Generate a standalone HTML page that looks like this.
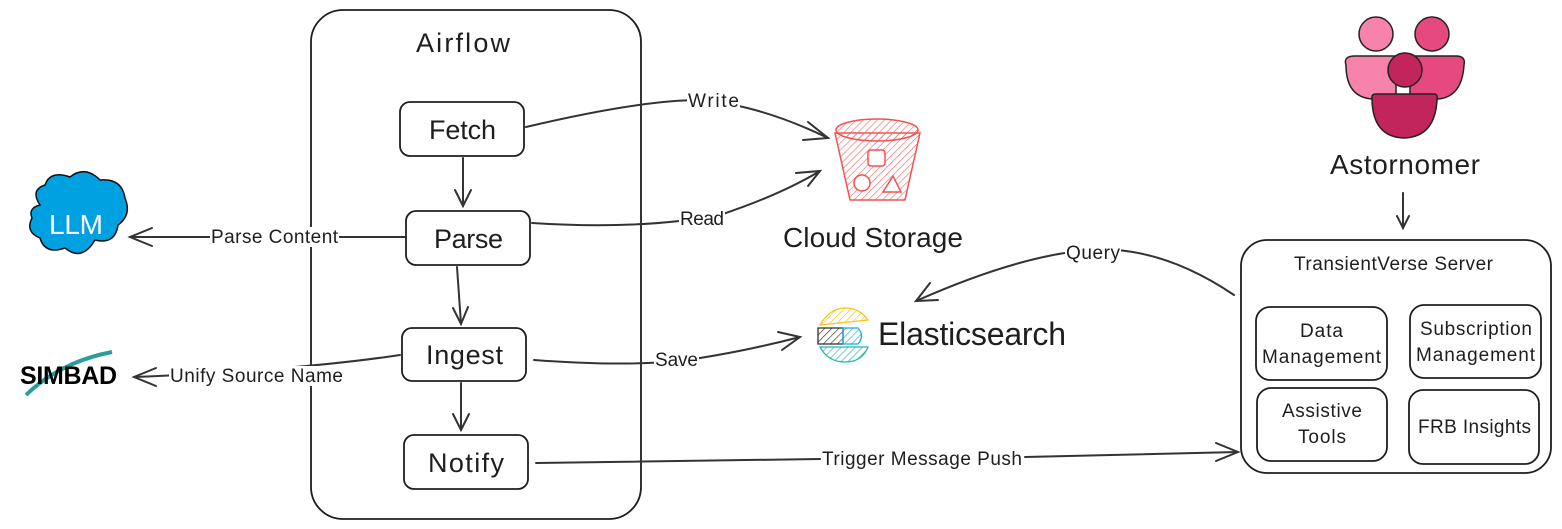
<!DOCTYPE html>
<html><head><meta charset="utf-8"><style>
html,body{margin:0;padding:0;background:#fff;}
svg{display:block;}
text{font-family:"Liberation Sans",sans-serif;fill:#1e1e1e;}
</style></head><body>
<svg width="1562" height="529" viewBox="0 0 1562 529" xmlns="http://www.w3.org/2000/svg">
<defs>
<pattern id="hr" width="5" height="5" patternUnits="userSpaceOnUse" patternTransform="rotate(45)"><line x1="0" y1="0" x2="0" y2="5" stroke="#f26b6b" stroke-width="1.3"/></pattern>
<pattern id="hy" width="5" height="5" patternUnits="userSpaceOnUse" patternTransform="rotate(45)"><line x1="0" y1="0" x2="0" y2="5" stroke="#f5c518" stroke-width="1.3"/></pattern>
<pattern id="hb" width="5" height="5" patternUnits="userSpaceOnUse" patternTransform="rotate(45)"><line x1="0" y1="0" x2="0" y2="5" stroke="#1ba9e0" stroke-width="1.3"/></pattern>
<pattern id="ht" width="5" height="5" patternUnits="userSpaceOnUse" patternTransform="rotate(45)"><line x1="0" y1="0" x2="0" y2="5" stroke="#20b9a8" stroke-width="1.3"/></pattern>
<pattern id="hk" width="5" height="5" patternUnits="userSpaceOnUse" patternTransform="rotate(45)"><line x1="0" y1="0" x2="0" y2="5" stroke="#333" stroke-width="1.3"/></pattern>
</defs>
<g fill="none" stroke="#1e1e1e" stroke-width="1.8">
<rect x="311" y="10" width="330" height="509" rx="32"/>
<rect x="400" y="102" width="124" height="54" rx="10"/>
<rect x="406" y="211" width="124" height="54" rx="10"/>
<rect x="402" y="328" width="124" height="53" rx="10"/>
<rect x="404" y="435" width="124" height="54" rx="10"/>
<rect x="1241" y="240" width="310" height="233" rx="26"/>
<rect x="1256" y="307" width="131" height="73" rx="14"/>
<rect x="1410" y="305" width="131" height="73" rx="14"/>
<rect x="1257" y="388" width="130" height="73" rx="14"/>
<rect x="1409" y="390" width="130" height="74" rx="14"/>
</g>
<text x="416" y="52" font-size="27" textLength="94">Airflow</text>
<text x="429" y="139" font-size="27" textLength="67">Fetch</text>
<text x="434" y="248" font-size="27" textLength="69">Parse</text>
<text x="426" y="364" font-size="27" textLength="77">Ingest</text>
<text x="428" y="472" font-size="27" textLength="76">Notify</text>
<text x="1294" y="270" font-size="19" textLength="199">TransientVerse Server</text>
<text x="1300" y="337" font-size="19" textLength="43">Data</text>
<text x="1262" y="363" font-size="19" textLength="119">Management</text>
<text x="1420" y="335" font-size="19" textLength="112">Subscription</text>
<text x="1416" y="361" font-size="19" textLength="119">Management</text>
<text x="1282" y="417" font-size="19" textLength="80">Assistive</text>
<text x="1298" y="443" font-size="19" textLength="48">Tools</text>
<text x="1418" y="433" font-size="19" textLength="113">FRB Insights</text>
<text x="1330" y="174" font-size="28" textLength="150">Astornomer</text>
<text x="783" y="247" font-size="28" textLength="180">Cloud Storage</text>
<text x="878" y="345" font-size="32" textLength="188">Elasticsearch</text>

<g fill="none" stroke="#333" stroke-width="2" stroke-linecap="round">
<path d="M526 127 Q640 100 700 100 Q760 105 828 138"/><path d="M808 122 L828 138 L803 140"/>
<path d="M532 223 Q640 230 720 215 Q780 195 820 171"/><path d="M796 173 L820 171 L808 186"/>
<path d="M406 237 L130 237"/><path d="M152 228 L130 237 L152 246"/>
<path d="M400 355 Q300 370 134 377"/><path d="M156 368 L134 377 L156 386"/>
<path d="M534 360 Q640 368 700 358 Q750 350 800 337"/><path d="M778 332 L800 337 L782 350"/>
<path d="M1234 295 Q1160 245 1090 250 Q1020 255 916 301"/><path d="M930 283 L916 301 L938 300"/>
<path d="M536 463 L820 459 M1025 457 L1238 452"/><path d="M1216 443 L1238 452 L1216 461"/>
<path d="M463 158 L463 206"/><path d="M455 190 L463 206 L471 190"/>
<path d="M457 267 L461 324"/><path d="M453 308 L461 324 L468 307"/>
<path d="M461 383 L461 430"/><path d="M453 414 L461 430 L469 414"/>
<path d="M1403 193 L1403 228"/><path d="M1397 216 L1403 228 L1409 216"/>
</g>
<g font-size="19">
<rect x="687" y="91" width="53" height="20" fill="#fff"/><text x="688" y="107" textLength="51">Write</text>
<rect x="679" y="208" width="46" height="20" fill="#fff"/><text x="680" y="225" textLength="44">Read</text>
<rect x="210" y="227" width="129" height="20" fill="#fff"/><text x="211" y="243" textLength="127">Parse Content</text>
<rect x="169" y="366" width="175" height="20" fill="#fff"/><text x="170" y="382" textLength="173">Unify Source Name</text>
<rect x="654" y="350" width="45" height="20" fill="#fff"/><text x="655" y="366" textLength="43">Save</text>
<rect x="1065" y="243" width="56" height="20" fill="#fff"/><text x="1066" y="259" textLength="54">Query</text>
<rect x="821" y="449" width="202" height="20" fill="#fff"/><text x="822" y="465" textLength="200">Trigger Message Push</text>
</g>

<g stroke="#111" stroke-width="1.5" fill="#00a1e0">
<path d="M40 205 Q30 190 45 185 Q50 170 70 177 Q85 165 100 180 Q122 178 125 198 Q132 215 118 225 Q115 245 95 240 Q82 262 65 248 Q45 255 40 238 Q25 232 32 218 Q28 208 40 205Z"/>
</g>
<text x="49" y="234" font-size="28" textLength="54" style="fill:#fff">LLM</text>

<path d="M26 395 Q60 362 112 352" stroke="#2a9d9a" stroke-width="4" fill="none"/>
<text x="20" y="384" font-size="25" font-weight="bold" textLength="97" style="fill:#000">SIMBAD</text>

<g stroke="#f05252" stroke-width="1.5">
<path d="M835 133 L850 200 L905 200 L920 133Z" fill="url(#hr)"/>
<ellipse cx="877" cy="130" rx="41" ry="11" fill="url(#hr)"/>
<rect x="868" y="150" width="17" height="16" rx="3" fill="#fff"/>
<circle cx="862" cy="183" r="8" fill="#fff"/>
<path d="M883 192 L893 176 L901 192Z" fill="#fff"/>
</g>

<g stroke-width="1.3">
<path d="M820 325 Q830 308 845 308 Q860 308 868 320 Z" fill="url(#hy)" stroke="#f5c518"/>
<rect x="818" y="328" width="25" height="16" fill="url(#hk)" stroke="#333"/>
<path d="M843 328 L858 328 Q865 336 858 344 L843 344Z" fill="url(#hb)" stroke="#1ba9e0"/>
<path d="M820 347 L868 347 Q862 362 845 362 Q828 362 820 347Z" fill="url(#ht)" stroke="#20b9a8"/>
</g>

<g stroke="#222" stroke-width="1.5">
<path d="M1346 65 Q1343 56 1355 56 L1396 56 L1396 99 L1372 99 Q1346 97 1346 65Z" fill="#f783ac"/>
<path d="M1410 56 L1456 56 Q1466 56 1464 65 Q1462 97 1438 99 L1410 99Z" fill="#e64980"/>
<circle cx="1376" cy="34" r="17" fill="#f783ac"/>
<circle cx="1432" cy="34" r="17" fill="#e64980"/>
<path d="M1372 97 Q1372 94 1376 94 L1434 94 Q1438 94 1437 100 Q1435 137 1404 138 Q1373 137 1372 100Z" fill="#c2255c"/>
<circle cx="1405" cy="70" r="17" fill="#c2255c"/>
</g>
</svg>
</body></html>
